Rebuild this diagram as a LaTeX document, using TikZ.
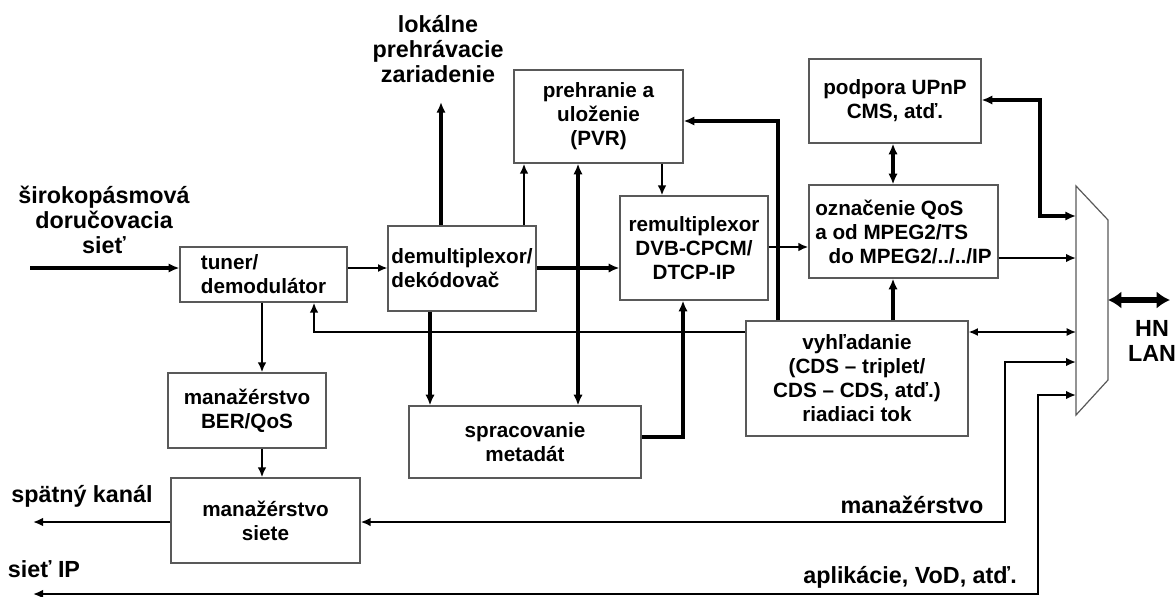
\documentclass[tikz,border=0pt]{standalone}
\usepackage{fontspec}
\setmainfont{Liberation Sans}
\usetikzlibrary{arrows.meta}

\newcommand{\blkfont}{\fontsize{15.5}{18}\selectfont\bfseries}
\newcommand{\lblfont}{\fontsize{17.5}{19}\selectfont\bfseries}

\begin{document}
\begin{tikzpicture}[x=0.75pt,y=0.75pt,yscale=-1,
    box/.style={draw=black!65, line width=0.9pt, inner sep=1pt, align=center, font=\blkfont},
    lbl/.style={inner sep=0pt, align=center, font=\lblfont},
    thk/.style={line width=2.4pt, -{Latex[length=8pt,width=7pt]}},
    thm/.style={line width=1.6pt, -{Latex[length=7.5pt,width=6.5pt]}},
    thn/.style={line width=1.1pt, -{Latex[length=7pt,width=6pt]}},
    thkb/.style={line width=2.4pt, {Latex[length=8pt,width=7pt]}-{Latex[length=8pt,width=7pt]}},
    thmb/.style={line width=1.9pt, {Latex[length=7.5pt,width=6.5pt]}-{Latex[length=7.5pt,width=6.5pt]}},
    thnb/.style={line width=1.1pt, {Latex[length=7pt,width=6pt]}-{Latex[length=7pt,width=6pt]}}
  ]
        \useasboundingbox (0,0) rectangle (1176,596);

        %Shape: Boxes
        \node [box, minimum width=125.3pt, minimum height=41.3pt, align=left] (tuner) at (263.5,274.5) {tuner/\\demodulátor};
        \node [box, minimum width=111pt, minimum height=63.8pt, align=left] (demux) at (462,268.5) {demultiplexor/\\dekódovač};
        \node [box, minimum width=126.8pt, minimum height=69.8pt] (pvr) at (598.5,116.5) {prehranie a\\uloženie\\(PVR)};
        \node [box, minimum width=111pt, minimum height=78pt] (remux) at (694,248) {remultiplexor\\DVB-CPCM/\\DTCP-IP};
        \node [box, minimum width=129pt, minimum height=63pt] (upnp) at (895,101) {podpora UPnP\\CMS, atď.};
        \node [box, minimum width=141.8pt, minimum height=69.8pt, align=left] (qos) at (903.5,231.5) {označenie QoS\\a od MPEG2/TS\\\hspace*{10pt}do MPEG2/../../IP};
        \node [box, minimum width=166.5pt, minimum height=86.3pt] (search) at (857,378.5) {vyhľadanie\\(CDS -- triplet/\\CDS -- CDS, atď.)\\riadiaci tok};
        \node [box, minimum width=118.5pt, minimum height=56.3pt] (ber) at (247,410.5) {manažérstvo\\BER/QoS};
        \node [box, minimum width=174pt, minimum height=54pt] (meta) at (525,442) {spracovanie\\metadát};
        \node [box, minimum width=141.8pt, minimum height=63.8pt] (net) at (265.5,520.5) {manažérstvo\\siete};

        %Shape: Multiplexer
        \draw [draw=black!65, line width=0.9pt] (1076,186) -- (1108,220) -- (1108,380) -- (1076,415) -- cycle ;

        % Text Node
        \node [lbl] (src) at (104,220) {širokopásmová\\doručovacia\\sieť};
        % Text Node
        \node [lbl] (play) at (438,49) {lokálne\\prehrávacie\\zariadenie};
        % Text Node
        \node [lbl] (backlbl) at (82,496) {spätný kanál};
        % Text Node
        \node [lbl] (iplbl) at (44,569) {sieť IP};
        % Text Node
        \node [lbl] (mgmtlbl) at (912,505) {manažérstvo};
        % Text Node
        \node [lbl] (applbl) at (910,577) {aplikácie, VoD, atď.};
        % Text Node
        \node [lbl] (lan) at (1152,341) {HN\\LAN};

        %Coordinates
        \coordinate (in) at (30,268);
        \coordinate (out1) at (441,102);
        \coordinate (back) at (33,522);
        \coordinate (ipout) at (33,594);
        \coordinate (c1) at (262,0);
        \coordinate (c2) at (314,332);
        \coordinate (c3) at (430,0);
        \coordinate (c4) at (441,0);
        \coordinate (c5) at (524,0);
        \coordinate (c6) at (578,0);
        \coordinate (c7) at (662,0);
        \coordinate (c8) at (683,437);
        \coordinate (c9) at (778,121);
        \coordinate (c10) at (893,0);
        \coordinate (c11) at (1040,100);
        \coordinate (c11b) at (1040,216);
        \coordinate (c12) at (1005,362);
        \coordinate (c13) at (1038,395);
        \coordinate (r1) at (0,247);
        \coordinate (r2) at (0,258);
        \coordinate (muxL) at (1076,0);
        \coordinate (muxR) at (1108,300);
        \coordinate (hn) at (1170,300);

        %Straight Lines
        \draw [thk] (in) -- (tuner.west |- in) ;
        \draw [thn] (tuner.east |- in) -- (demux.west |- in) ;
        \draw [thk] (demux.north -| c4) -- (out1) ;
        \draw [thm] (demux.north -| c5) -- (pvr.south -| c5) ;
        \draw [thkb] (pvr.south -| c6) -- (meta.north -| c6) ;
        \draw [thm] (pvr.south -| c7) -- (remux.north -| c7) ;
        \draw [thk] (demux.east |- in) -- (remux.west |- in) ;
        \draw [thm] (remux.east |- r1) -- (qos.west |- r1) ;
        \draw [thk] (search.north -| c9) -- (c9) -- (pvr.east |- c9) ;
        \draw [thk] (search.north -| c10) -- (qos.south -| c10) ;
        \draw [thm] (search.west |- c2) -- (c2) -- (tuner.south -| c2) ;
        \draw [thnb] (search.east |- c2) -- (muxL |- c2) ;
        \draw [thm] (tuner.south -| c1) -- (ber.north -| c1) ;
        \draw [thm] (ber.south -| c1) -- (net.north -| c1) ;
        \draw [thm] (net.west |- back) -- (back) ;
        \draw [thmb] (net.east |- back) -- (c12 |- back) -- (c12) -- (muxL |- c12) ;
        \draw [thmb] (ipout) -- (c13 |- ipout) -- (c13) -- (muxL |- c13) ;
        \draw [thkb] (upnp.south -| c10) -- (qos.north -| c10) ;
        \draw [thkb] (upnp.east |- c11) -- (c11) -- (c11b) -- (muxL |- c11b) ;
        \draw [thm] (qos.east |- r2) -- (muxL |- r2) ;
        \draw [thk] (meta.east |- c8) -- (c8) -- (remux.south -| c8) ;
        \draw [thk] (demux.south -| c3) -- (meta.north -| c3) ;
        \draw [line width=4.5pt, {Latex[length=10pt,width=13pt]}-{Latex[length=10pt,width=13pt]}] (muxR) -- (hn) ;

\end{tikzpicture}
\end{document}
